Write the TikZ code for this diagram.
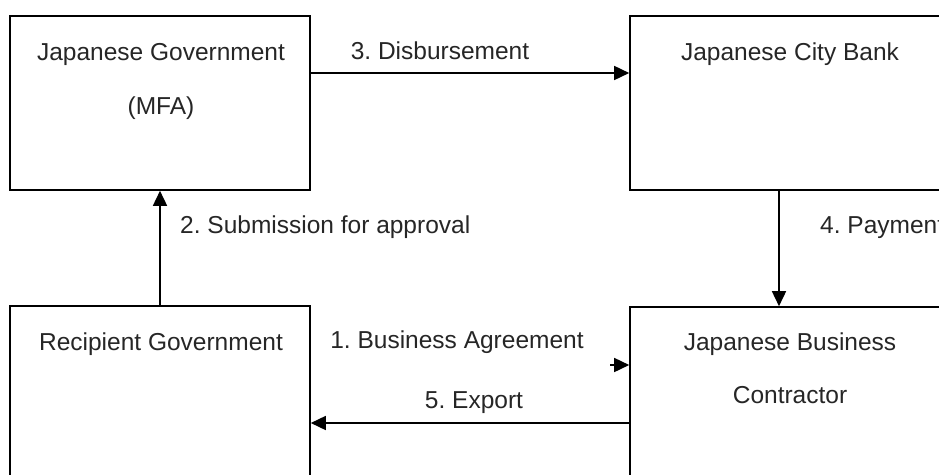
\documentclass[tikz,border=0pt]{standalone}
\usepackage{fontspec}
\setmainfont{Liberation Sans}
\usetikzlibrary{arrows.meta}
\frenchspacing
\begin{document}
\begin{tikzpicture}[x=1pt,y=-1pt,
  box/.style={draw=black,line width=1.6pt,rectangle,inner sep=0pt},
  txt/.style={font=\fontsize{24.5}{29}\selectfont,text=black!85,anchor=base,inner sep=0pt},
  arr/.style={draw=black,line width=1.6pt,-{Triangle[length=15pt,width=14pt]}}]
\useasboundingbox (0,0) rectangle (939,474);
\clip (0,0) rectangle (939,474);
% boxes
\node[box,minimum width=300pt,minimum height=174pt] (tl) at (160,103) {};
\node[box,minimum width=320pt,minimum height=174pt] (tr) at (790,103) {};
\node[box,minimum width=300pt,minimum height=200pt] (bl) at (160,406) {};
\node[box,minimum width=320pt,minimum height=200pt] (br) at (790,407) {};
% box texts
\node[txt] (t1) at (161,60) {Japanese Government};
\node[txt] (t2) at (161,114) {(MFA)};
\node[txt] (t3) at (790,60) {Japanese City Bank};
\node[txt] (t4) at (161,350) {Recipient Government};
\node[txt] (t5) at (790,350) {Japanese Business};
\node[txt] (t6) at (790,403) {Contractor};
% connector labels
\node[txt] (l3) at (440,59) {3. Disbursement};
\node[txt,anchor=base west] (l2) at (180,233) {2. Submission for approval};
\node[txt,anchor=base west] (l4) at (820,233) {4. Payment};
\node[txt] (l1) at (457,348) {1. Business Agreement};
\node[txt] (l5) at (474,408) {5. Export};
% connectors
\draw[arr] (tl.east |- 0,73) -- (tr.west |- 0,73);
\draw[arr] (bl.north) -- (tl.south);
\draw[arr] (tr.south -| 779,0) -- (br.north -| 779,0);
\coordinate (a1) at (610,365);
\draw[arr] (a1) -- (br.west |- a1);
\draw[arr] (br.west |- 0,423) -- (bl.east |- 0,423);
\end{tikzpicture}
\end{document}
